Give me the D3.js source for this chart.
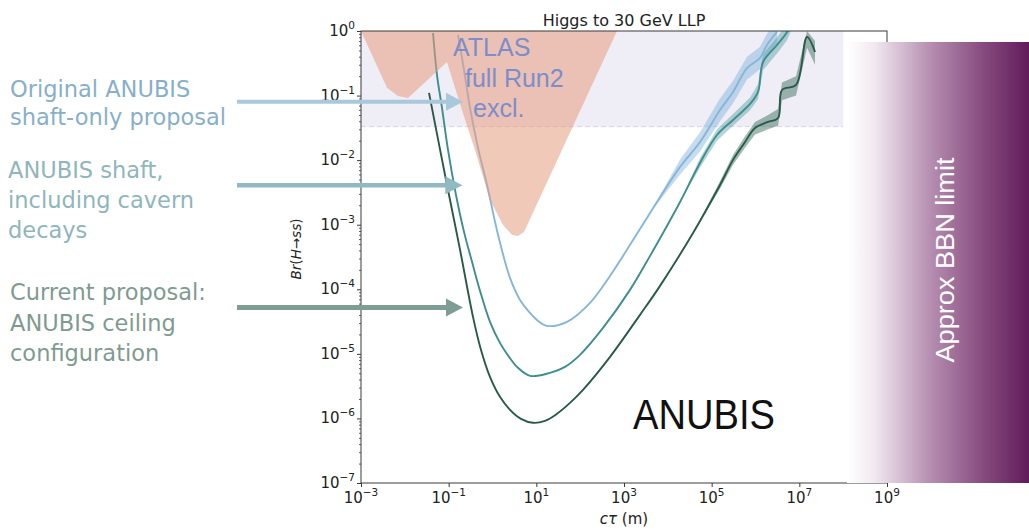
<!DOCTYPE html>
<html>
<head>
<meta charset="utf-8">
<script src="https://cdn.jsdelivr.net/npm/d3@7"></script>
<style>
  html, body { margin: 0; padding: 0; background: #fff; }
  svg { display: block; }
</style>
</head>
<body>
<svg id="chart" width="1029" height="530"></svg>
<script>
// ---------- axis ticks ----------
const ctTicks = [1e-3, 1e-1, 1e1, 1e3, 1e5, 1e7, 1e9];
const brTicks = [1, 1e-1, 1e-2, 1e-3, 1e-4, 1e-5, 1e-6, 1e-7];

// ---------- ANUBIS ceiling configuration (current proposal) ----------
const ceilCt = [0.0356, 0.0916, 0.182, 0.359, 0.547, 0.877, 1.48, 2.51, 4.47, 8.39, 15.8, 29.6, 58.6, 116,
                480, 2320, 6640, 3.76e4, 1.55e5, 3.07e5, 5.77e5, 9.75e5, 1.93e6, 3.27e6, 4.03e6, 8.41e6, 1.50e7, 2.28e7];
const ceilBr = [0.110, 4.13e-3, 4.07e-4, 3.74e-5, 1.15e-5, 4.41e-6, 2.16e-6, 1.36e-6, 9.86e-7, 8.55e-7, 9.18e-7, 1.18e-6, 1.74e-6, 2.77e-6,
                8.99e-6, 4.02e-5, 1.13e-4, 7.46e-4, 4.13e-3, 1.01e-2, 1.91e-2, 3.15e-2, 3.90e-2, 4.50e-2, 0.122, 0.146, 0.807, 0.473];
const ceilBandCt = [3.76e4, 1.55e5, 3.07e5, 5.77e5, 9.75e5, 1.93e6, 3.27e6, 4.03e6, 8.41e6, 1.50e7, 2.28e7];
const ceilBandLo = [7.46e-4, 3.6e-3, 8.5e-3, 1.55e-2, 2.5e-2, 3.0e-2, 3.4e-2, 8.5e-2, 0.10, 0.55, 0.30];
const ceilBandHi = [7.46e-4, 4.7e-3, 1.2e-2, 2.35e-2, 3.9e-2, 5.0e-2, 6.2e-2, 0.16, 0.20, 1.0, 0.70];

// ---------- ANUBIS shaft including cavern decays ----------
const cavCt = [0.0440, 0.0542, 0.0705, 0.0966, 0.147, 0.224, 0.341, 0.519, 0.877, 1.48, 2.38, 3.62, 7.18, 20.5, 45.1, 99.3,
               332, 1370, 3930, 1.90e4, 5.42e4, 1.32e5, 3.07e5, 7.50e5, 1.14e6, 1.49e6, 3.10e6, 5.24e6, 6.81e6];
const cavBr = [0.931, 0.208, 0.0643, 0.0144, 2.89e-3, 7.74e-4, 2.66e-4, 9.45e-5, 3.13e-5, 1.48e-5, 8.99e-6, 6.29e-6, 4.56e-6, 5.08e-6, 6.29e-6, 9.66e-6,
               2.52e-5, 9.79e-5, 3.29e-4, 2.25e-3, 9.05e-3, 2.45e-2, 4.19e-2, 7.41e-2, 0.114, 0.331, 0.607, 0.966, 1.48];
const cavBandCt = [1.90e4, 5.42e4, 1.32e5, 3.07e5, 7.50e5, 1.14e6, 1.49e6, 3.10e6, 5.24e6, 6.81e6];
const cavBandLo = [2.25e-3, 7.6e-3, 2.0e-2, 3.4e-2, 5.9e-2, 8.8e-2, 0.25, 0.45, 0.72, 1.1];
const cavBandHi = [2.25e-3, 1.08e-2, 3.0e-2, 5.2e-2, 9.3e-2, 0.15, 0.44, 0.80, 1.3, 2.0];

// ---------- original shaft-only proposal ----------
const shaftCt = [0.163, 0.224, 0.307, 0.467, 0.750, 1.34, 2.51, 4.25, 7.18, 10.9, 17.5, 50.1, 168, 480, 950, 3930,
                 1.90e4, 5.42e4, 1.55e5, 3.07e5, 6.41e5, 1.27e6, 1.83e6, 3.10e6];
const shaftBr = [0.867, 0.249, 0.0643, 0.0155, 4.13e-3, 6.95e-4, 1.50e-4, 6.85e-5, 4.31e-5, 3.24e-5, 2.71e-5, 3.13e-5, 6.16e-5, 1.61e-4, 3.29e-4, 1.52e-3,
                 7.85e-3, 1.91e-2, 5.98e-2, 0.114, 0.267, 0.382, 0.607, 0.966];
const shaftBandCt = [3930, 1.90e4, 5.42e4, 1.55e5, 3.07e5, 6.41e5, 1.27e6, 1.83e6, 3.10e6];
const shaftBandLo = [1.52e-3, 6.0e-3, 1.36e-2, 4.0e-2, 7.6e-2, 0.178, 0.255, 0.40, 0.64];
const shaftBandHi = [1.52e-3, 1.02e-2, 2.7e-2, 9.0e-2, 0.17, 0.40, 0.57, 0.91, 1.45];

// ---------- ATLAS full Run 2 exclusion ----------
const atlasCt = [1e-3, 3.92e-3, 6.98e-3, 0.0118, 0.0916, 0.201, 0.399, 0.877, 1.74, 2.79, 3.82, 5.24, 693];
const atlasBr = [1, 0.132, 0.0986, 0.0918, 0.331, 0.0598, 0.0144, 2.42e-3, 9.93e-4, 6.95e-4, 6.71e-4, 7.74e-4, 1];

// shaded band of already-constrained branching ratios
const shadeCt = [1e-3, 1e8];
const shadeBr = [0.033, 1];

// annotation arrows: branching ratio level and tip position
const arrowBr  = [0.080, 4.1e-3, 5.2e-5];
const arrowTip = [0.212, 0.205, 0.212];

// ---------- layout ----------
const svg = d3.select("#chart");
const x = d3.scaleLog().domain([1e-3, 1e9]).range([361, 887]);
const y = d3.scaleLog().domain([1e-7, 1]).range([483, 31]);
const [x0, x1] = x.range();
const [y0, y1] = y.range();

const defs = svg.append("defs");
defs.append("clipPath").attr("id", "plotClip")
  .append("rect").attr("x", x0).attr("y", y1).attr("width", x1 - x0).attr("height", y0 - y1);

const grad = defs.append("linearGradient").attr("id", "bbnGrad")
  .attr("x1", "0%").attr("x2", "100%").attr("y1", "0%").attr("y2", "0%");
[["0%", "#ffffff"], ["15%", "#f1e9f0"], ["45%", "#b790b2"], ["75%", "#864b7e"], ["100%", "#611b5b"]]
  .forEach(([o, c]) => grad.append("stop").attr("offset", o).attr("stop-color", c));

const plot = svg.append("g").attr("clip-path", "url(#plotClip)");

// constrained region
plot.append("rect")
  .attr("x", x(shadeCt[0])).attr("y", y(shadeBr[1]))
  .attr("width", x(shadeCt[1]) - x(shadeCt[0]))
  .attr("height", y(shadeBr[0]) - y(shadeBr[1]))
  .attr("fill", "#efedf6");
plot.append("line")
  .attr("x1", x(shadeCt[0])).attr("x2", x(shadeCt[1]))
  .attr("y1", y(shadeBr[0])).attr("y2", y(shadeBr[0]))
  .attr("stroke", "#d7d3e5").attr("stroke-width", 1).attr("stroke-dasharray", "5,3");

// uncertainty bands
function band(ct, lo, hi, color, op) {
  const pts = ct.map((c, i) => ({ c, lo: lo[i], hi: hi[i] }));
  plot.append("path")
    .attr("d", d3.area().x(d => x(d.c)).y0(d => y(d.lo)).y1(d => y(d.hi))(pts))
    .attr("fill", color).attr("fill-opacity", op);
}
band(shaftBandCt, shaftBandLo, shaftBandHi, "#7fb2d9", 0.45);
band(cavBandCt, cavBandLo, cavBandHi, "#4b9a9c", 0.42);
band(ceilBandCt, ceilBandLo, ceilBandHi, "#2e6652", 0.45);

// sensitivity curves
function curve(ct, br, color, w) {
  const pts = ct.map((c, i) => [x(c), y(br[i])]);
  plot.append("path")
    .attr("d", d3.line().curve(d3.curveCatmullRom.alpha(0.5))(pts))
    .attr("fill", "none").attr("stroke", color).attr("stroke-width", w)
    .attr("stroke-linejoin", "round");
}
curve(shaftCt, shaftBr, "#86b5da", 1.9);
curve(cavCt, cavBr, "#3e8e90", 1.9);
curve(ceilCt, ceilBr, "#295a47", 1.9);

// ATLAS exclusion
plot.append("path")
  .attr("d", d3.line().curve(d3.curveLinear)(atlasCt.map((c, i) => [x(c), y(atlasBr[i])])) + "Z")
  .attr("fill", "#e69c7e").attr("fill-opacity", 0.55);

const atlasText = svg.append("g")
  .attr("font-family", "'Liberation Sans', Arial, sans-serif")
  .attr("font-size", 25).attr("fill", "#7c8dcc");
atlasText.append("text").attr("x", 453).attr("y", 56).text("ATLAS");
atlasText.append("text").attr("x", 465).attr("y", 87).text("full Run2");
atlasText.append("text").attr("x", 473).attr("y", 117).text("excl.");

// ---------- axes ----------
const axisColor = "#3a3a3a";
const tickFont = "'DejaVu Sans', sans-serif";

svg.append("g").attr("transform", `translate(0,${y0})`)
  .call(d3.axisBottom(x).tickValues(ctTicks).tickSize(4).tickFormat(() => ""))
  .call(g => g.select(".domain").remove())
  .call(g => g.selectAll("line").attr("stroke", axisColor));

const minorBr = [];
for (let d = -7; d < 0; d++) for (let k = 2; k <= 9; k++) minorBr.push(k * Math.pow(10, d));
svg.append("g").attr("transform", `translate(${x0},0)`)
  .call(d3.axisLeft(y).tickValues(minorBr).tickSize(2).tickFormat(() => ""))
  .call(g => g.select(".domain").remove())
  .call(g => g.selectAll("line").attr("stroke", axisColor).attr("stroke-width", 0.8));
svg.append("g").attr("transform", `translate(${x0},0)`)
  .call(d3.axisLeft(y).tickValues(brTicks).tickSize(4).tickFormat(() => ""))
  .call(g => g.select(".domain").remove())
  .call(g => g.selectAll("line").attr("stroke", axisColor));

// frame
svg.append("rect").attr("x", x0).attr("y", y1).attr("width", x1 - x0).attr("height", y0 - y1)
  .attr("fill", "none").attr("stroke", axisColor).attr("stroke-width", 1);

function powLabel(sel, v) {
  const e = Math.round(Math.log10(v));
  sel.append("tspan").text("10");
  sel.append("tspan").attr("font-size", 10.5).attr("dy", -7).text(e < 0 ? "\u2212" + (-e) : String(e));
}
ctTicks.forEach(v => {
  const t = svg.append("text").attr("x", x(v)).attr("y", 503).attr("text-anchor", "middle")
    .attr("font-family", tickFont).attr("font-size", 15).attr("fill", "#222");
  powLabel(t, v);
});
brTicks.forEach(v => {
  const t = svg.append("text").attr("x", 355).attr("y", y(v) + 5).attr("text-anchor", "end")
    .attr("font-family", tickFont).attr("font-size", 15).attr("fill", "#222");
  powLabel(t, v);
});

// title and axis titles
svg.append("text").attr("x", (x0 + x1) / 2).attr("y", 26).attr("text-anchor", "middle")
  .attr("font-family", tickFont).attr("font-size", 16).attr("fill", "#222").text("Higgs to 30 GeV LLP");

const xl = svg.append("text").attr("x", (x0 + x1) / 2).attr("y", 524).attr("text-anchor", "middle")
  .attr("font-family", tickFont).attr("font-size", 15).attr("fill", "#222");
xl.append("tspan").attr("font-style", "italic").text("c\u03c4");
xl.append("tspan").text(" (m)");

const yl = svg.append("text").attr("transform", "translate(301,249) rotate(-90)").attr("text-anchor", "middle")
  .attr("font-family", tickFont).attr("font-size", 13.5).attr("fill", "#222");
yl.append("tspan").attr("font-style", "italic").text("Br");
yl.append("tspan").text("(");
yl.append("tspan").attr("font-style", "italic").text("H");
yl.append("tspan").text("\u2192");
yl.append("tspan").attr("font-style", "italic").text("ss");
yl.append("tspan").text(")");

// ---------- BBN limit panel ----------
svg.append("rect").attr("x", 847).attr("y", 42).attr("width", 182).attr("height", 441).attr("fill", "url(#bbnGrad)");
svg.append("text").attr("transform", "translate(954,260) rotate(-90)").attr("text-anchor", "middle")
  .attr("font-family", "'Liberation Sans', Arial, sans-serif").attr("font-size", 25.5)
  .attr("fill", "#ffffff").attr("textLength", 205).attr("lengthAdjust", "spacingAndGlyphs")
  .text("Approx BBN limit");

svg.append("text").attr("x", 633).attr("y", 429)
  .attr("font-family", "'Liberation Sans', Arial, sans-serif").attr("font-size", 43)
  .attr("fill", "#111").attr("textLength", 142).attr("lengthAdjust", "spacingAndGlyphs")
  .text("ANUBIS");

// ---------- configuration labels and arrows ----------
const notes = [
  { lines: ["Original ANUBIS", "shaft-only proposal"], x: 10, y: 97, step: 28, color: "#87afc9", arrow: "#a9c8dc", w: 4 },
  { lines: ["ANUBIS shaft,", "including cavern", "decays"], x: 8, y: 178, step: 30, color: "#8fb5bd", arrow: "#90b9c2", w: 4.5 },
  { lines: ["Current proposal:", "ANUBIS ceiling", "configuration"], x: 10, y: 300, step: 30.5, color: "#7f9b91", arrow: "#7e9d94", w: 5 }
];
notes.forEach((n, i) => {
  const t = svg.append("text").attr("font-family", "'DejaVu Sans', sans-serif").attr("font-size", 22.5).attr("fill", n.color);
  n.lines.forEach((s, j) => t.append("tspan").attr("x", n.x).attr("y", n.y + j * n.step).text(s));
  const ay = y(arrowBr[i]), tip = x(arrowTip[i]);
  svg.append("line").attr("x1", 237).attr("x2", tip - 14).attr("y1", ay).attr("y2", ay)
    .attr("stroke", n.arrow).attr("stroke-width", n.w);
  svg.append("path").attr("d", `M${tip - 17},${ay - 9}L${tip},${ay}L${tip - 17},${ay + 9}Z`).attr("fill", n.arrow);
});
</script>
</body>
</html>
